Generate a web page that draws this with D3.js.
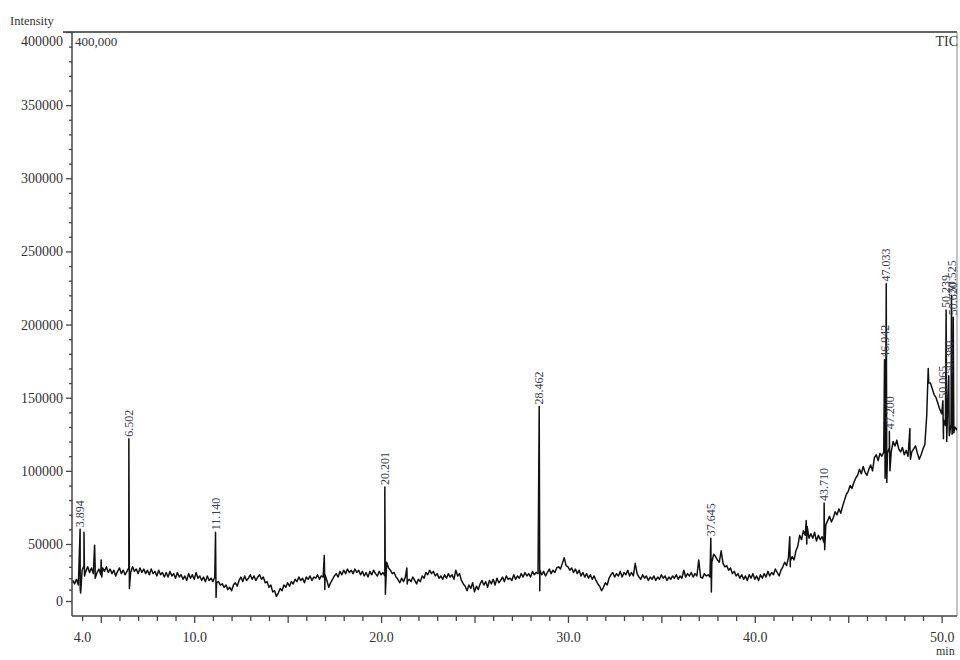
<!DOCTYPE html>
<html>
<head>
<meta charset="utf-8">
<script src="https://cdn.jsdelivr.net/npm/d3@7"></script>
<style>
  body { margin: 0; background: #fff; }
  svg { display: block; }
  text { font-family: "Liberation Serif", "DejaVu Serif", serif; }
</style>
</head>
<body>
<svg id="chart" width="960" height="660"></svg>
<script>
// TIC baseline, every 0.1 min from 3.5 min (intensity in thousands)
const baseStart = 3.5;
const baseStep = 0.1;
const baseK = [
  18, 15, 19, 14, 10, 27, 31, 26, 30, 25,
  29, 24, 30, 25, 28, 23, 29, 26, 30, 25,
  28, 24, 27, 22, 26, 29, 24, 27, 23, 26,
  29, 25, 30, 26, 28, 24, 29, 25, 28, 24,
  27, 23, 28, 24, 26, 22, 27, 23, 25, 21,
  25, 21, 26, 22, 24, 20, 25, 21, 23, 19,
  22, 18, 24, 20, 23, 19, 25, 20, 22, 18,
  21, 17, 22, 18, 20, 17, 21, 16, 17, 14,
  15, 12, 14, 10, 12, 9, 14, 16, 13, 18,
  21, 17, 22, 18, 20, 23, 19, 22, 18, 21,
  23, 19, 21, 16, 17, 12, 14, 8, 9, 4,
  7, 11, 9, 14, 12, 16, 13, 17, 15, 19,
  17, 21, 18, 20, 16, 21, 19, 22, 18, 21,
  20, 23, 19, 22, 21, 23, 18, 12, 16, 19,
  22, 24, 21, 26, 23, 27, 24, 28, 25, 27,
  24, 28, 25, 27, 23, 26, 22, 25, 21, 26,
  23, 27, 24, 22, 26, 23, 25, 22, 34, 29,
  27, 24, 25, 21, 19, 16, 20, 17, 21, 15,
  19, 17, 21, 18, 15, 19, 17, 22, 20, 25,
  23, 27, 24, 26, 22, 24, 20, 22, 19, 23,
  20, 24, 21, 23, 19, 27, 22, 24, 18, 15,
  13, 9, 14, 11, 16, 8, 13, 10, 15, 18,
  14, 17, 12, 18, 15, 19, 14, 20, 16, 18,
  21, 17, 22, 19, 20, 18, 23, 19, 22, 20,
  24, 21, 25, 22, 24, 21, 26, 23, 25, 24,
  27, 23, 26, 22, 25, 28, 24, 27, 25, 29,
  30, 28, 33, 38, 31, 30, 27, 29, 25, 28,
  24, 27, 22, 25, 21, 24, 20, 23, 19, 22,
  18, 15, 13, 9, 12, 16, 14, 20, 23, 25,
  21, 24, 22, 26, 21, 25, 23, 27, 22, 25,
  22, 33, 24, 21, 19, 23, 20, 22, 18, 21,
  19, 22, 18, 21, 19, 23, 20, 22, 18, 21,
  19, 22, 20, 23, 19, 22, 20, 27, 21, 24,
  22, 25, 21, 24, 22, 36, 21, 20, 24, 22,
  23, 21, 34, 41, 39, 36, 34, 44, 33, 30,
  31, 27, 29, 24, 26, 22, 24, 20, 23, 19,
  22, 18, 23, 20, 24, 19, 22, 18, 23, 20,
  24, 21, 26, 22, 25, 23, 28, 25, 22, 27,
  30, 34, 31, 38, 35, 39, 36, 44, 48, 56,
  53, 59, 56, 62, 54, 57, 54, 58, 52, 56,
  53, 55, 51, 63, 66, 69, 65, 68, 72, 70,
  74, 71, 76, 80, 84, 86, 90, 88, 92, 95,
  97, 101, 98, 103, 99, 97, 101, 104, 100, 109,
  111, 107, 112, 110, 113, 108, 112, 116, 113, 120,
  117, 121, 115, 113, 116, 111, 114, 110, 117, 113,
  115, 117, 112, 108, 111, 115, 118, 138, 163, 160,
  156, 152, 150, 146, 142, 139, 135, 131, 134, 128,
  132, 127, 130, 128, 131
];

// sharp peaks: retention time (min), apex and trough just after it (thousands), label
const peakTimes   = [3.894, 4.10, 4.67, 5.02, 6.502, 11.140, 16.96, 20.201, 21.38, 28.462, 37.645, 41.87, 42.75, 43.710, 46.942, 47.033, 47.200, 48.30, 49.28, 50.065, 50.239, 50.380, 50.525, 50.620];
const peakApexK   = [60, 58, 49, 36, 122, 58, 40, 89, 29, 144, 54, 55, 66, 78, 176, 228, 127, 129, 170, 148, 210, 165, 220, 205];
const peakTroughK = [7, 22, 20, 21, 11, 3, 10, 6, 17, 9, 8, 30, 50, 45, 95, 92, 100, 108, 160, 122, 120, 124, 125, 126];
const peakLabels  = ["3.894", "", "", "", "6.502", "11.140", "", "20.201", "", "28.462", "37.645", "", "", "43.710", "46.942", "47.033", "47.200", "", "", "50.065", "50.239", "50.380", "50.525", "50.620"];

const xTicks = d3.range(4, 51);
const xLabelTicks = [4, 10, 20, 30, 40, 50];
const yTicks = [0, 50000, 100000, 150000, 200000, 250000, 300000, 350000, 400000];
const yMinorTicks = d3.range(0, 400001, 10000).filter(v => v % 50000 !== 0);

const svg = d3.select('#chart');
const plotL = 72, plotR = 957, plotT = 32, plotB = 616;

const x = d3.scaleLinear().domain([3.46, 50.82]).range([plotL, plotR]);
// the printed axis squeezes the 0-50000 band, so the scale is piecewise
const y = d3.scaleLinear().domain([0, 50000, 400000]).range([601, 544, plotT]);

// build the trace
const trace = baseK.map((v, i) => ({ t: baseStart + i * baseStep, v: v * 1000 }));
peakTimes.forEach((t, i) => {
  trace.push({ t: t, v: peakApexK[i] * 1000 });
  trace.push({ t: t + 0.03, v: peakTroughK[i] * 1000 });
});
trace.sort((a, b) => a.t - b.t);

svg.append('rect').attr('width', 960).attr('height', 660).attr('fill', '#fff');

svg.append('clipPath').attr('id', 'plotClip')
  .append('rect')
  .attr('x', plotL).attr('y', plotT)
  .attr('width', plotR - plotL).attr('height', plotB - plotT);

// frame
svg.append('line')
  .attr('x1', 63).attr('x2', plotR).attr('y1', plotT).attr('y2', plotT)
  .attr('stroke', '#666').attr('stroke-width', 2.2);
svg.append('line')
  .attr('x1', plotR).attr('x2', plotR).attr('y1', plotT).attr('y2', plotB)
  .attr('stroke', '#888').attr('stroke-width', 1);
svg.append('line')
  .attr('x1', plotL).attr('x2', plotR).attr('y1', plotB).attr('y2', plotB)
  .attr('stroke', '#444').attr('stroke-width', 1.5);
svg.append('line')
  .attr('x1', plotL).attr('x2', plotL).attr('y1', plotT).attr('y2', plotB)
  .attr('stroke', '#444').attr('stroke-width', 1.5);

// y axis
const yMinor = svg.append('g')
  .attr('transform', `translate(${plotL},0)`)
  .call(d3.axisLeft(y).tickValues(yMinorTicks).tickSize(3).tickFormat(''));
yMinor.select('.domain').remove();

const yAxis = svg.append('g')
  .attr('transform', `translate(${plotL},0)`)
  .call(d3.axisLeft(y).tickValues(yTicks).tickSize(6).tickFormat(d3.format('d')));
yAxis.select('.domain').remove();
yAxis.selectAll('text')
  .attr('font-size', '14px')
  .attr('fill', '#333')
  .style('font-family', '"Liberation Serif", serif');
yAxis.selectAll('.tick').filter(d => d === 400000).select('text').attr('dy', '0.95em');

[yMinor, yAxis].forEach(g => g.selectAll('line').attr('stroke', '#444').attr('stroke-width', 1.3));

// x axis
const xAxis = svg.append('g')
  .attr('transform', `translate(0,${plotB})`)
  .call(d3.axisBottom(x).tickValues(xTicks).tickSize(5)
    .tickFormat(d => xLabelTicks.includes(d) ? d3.format('.1f')(d) : ''));
xAxis.select('.domain').remove();
xAxis.selectAll('line').attr('stroke', '#444').attr('stroke-width', 1.3);
xAxis.selectAll('.tick').filter(d => d % 5 === 0).select('line').attr('y2', 7);
xAxis.selectAll('text')
  .attr('y', 16)
  .attr('font-size', '14px')
  .attr('fill', '#333')
  .style('font-family', '"Liberation Serif", serif');

// trace
const line = d3.line()
  .x(d => x(d.t))
  .y(d => y(d.v));

svg.append('path')
  .datum(trace)
  .attr('clip-path', 'url(#plotClip)')
  .attr('d', line)
  .attr('fill', 'none')
  .attr('stroke', '#111')
  .attr('stroke-width', 1.5)
  .attr('stroke-linejoin', 'round');

// peak labels
peakTimes.forEach((t, i) => {
  if (!peakLabels[i]) return;
  svg.append('text')
    .attr('transform', `translate(${x(t)},${y(peakApexK[i] * 1000) - 2}) rotate(-90)`)
    .attr('dy', '0.35em')
    .attr('text-anchor', 'start')
    .attr('font-size', '12px')
    .attr('fill', '#3a3d4d')
    .text(peakLabels[i]);
});

// header / corner texts
svg.append('text')
  .attr('x', 10).attr('y', 25)
  .attr('font-size', '12.5px').attr('fill', '#333')
  .text('Intensity');
svg.append('text')
  .attr('x', 75).attr('y', 46)
  .attr('font-size', '13px').attr('fill', '#333')
  .text('400,000');
svg.append('text')
  .attr('x', plotR + 1).attr('y', 46)
  .attr('text-anchor', 'end')
  .attr('font-size', '14px').attr('fill', '#333')
  .text('TIC');
svg.append('text')
  .attr('x', 936).attr('y', 655)
  .attr('font-size', '12px').attr('fill', '#333')
  .text('min');
</script>
</body>
</html>
